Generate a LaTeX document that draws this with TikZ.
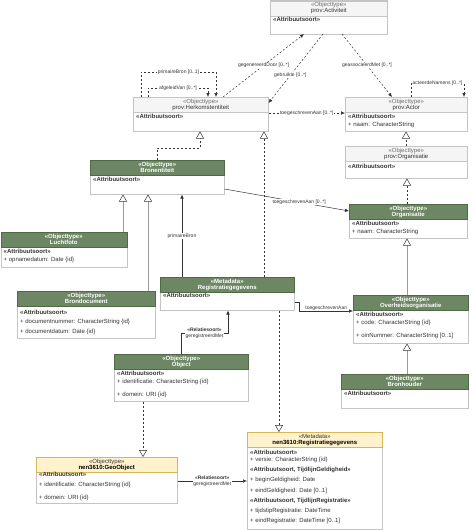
\documentclass[tikz,border=0pt]{standalone}
\usepackage{fontspec}
\setmainfont{Liberation Sans}
\usetikzlibrary{arrows.meta}

\definecolor{hdrgreen}{HTML}{6D8764}
\definecolor{hdrgreenline}{HTML}{4F6A45}
\definecolor{hdrgray}{HTML}{F5F5F5}
\definecolor{hdryellow}{HTML}{FFF2CC}
\definecolor{hdryellowline}{HTML}{D6B656}
\definecolor{boxline}{HTML}{C4C4C4}
\definecolor{genline}{HTML}{9A9A9A}
\definecolor{linedark}{HTML}{333333}

\newcommand{\boxfont}{\fontsize{6}{7}\selectfont}
\newcommand{\lblfont}{\fontsize{5}{6}\selectfont}

% class box: name, x, y, width, height, kind, stereotype, title
\newcommand{\umlclass}[8]{%
  \node[body, minimum width=#4pt, minimum height=#5pt] (#1) at (#2,#3) {};
  \node[head#6, minimum width=#4pt] (#1-h) at (#1.north west) {};
  \node[stereo#6] (#1-s) at ([yshift=-4.6pt]#1-h.north) {«#7»};
  \node[title#6] (#1-t) at ([yshift=-10.6pt]#1-h.north) {#8};
}
% one row of a class box: style, box, id, offset from top, text
\newcommand{\attr}[5][attr]{%
  \node[#1] (#2-#3) at ([xshift=3pt,yshift=-#4pt]#2.north west) {#5};
}

\begin{document}
\begin{tikzpicture}[x=1pt, y=-1pt,
  body/.style={draw=boxline, fill=white, anchor=north west, inner sep=0pt, line width=0.5pt},
  headgreen/.style={draw=hdrgreenline, fill=hdrgreen, anchor=north west, inner sep=0pt, minimum height=15pt, line width=0.5pt},
  headgray/.style={draw=boxline, fill=hdrgray, anchor=north west, inner sep=0pt, minimum height=15pt, line width=0.5pt},
  headyellow/.style={draw=hdryellowline, fill=hdryellow, anchor=north west, inner sep=0pt, minimum height=15pt, line width=0.5pt},
  stereogreen/.style={font=\boxfont\bfseries, text=white, inner sep=0pt},
  titlegreen/.style={font=\boxfont\bfseries, text=white, inner sep=0pt},
  stereogray/.style={font=\boxfont, text=gray!85!black, inner sep=0pt},
  titlegray/.style={font=\boxfont, text=linedark, inner sep=0pt},
  stereoyellow/.style={font=\boxfont, text=linedark, inner sep=0pt},
  titleyellow/.style={font=\boxfont\bfseries, text=black, inner sep=0pt},
  attr/.style={font=\boxfont, anchor=west, inner sep=0pt, text=linedark},
  attrb/.style={attr, font=\boxfont\bfseries},
  lbl/.style={font=\lblfont, fill=white, inner sep=0.6pt, text=linedark, align=center},
  dep/.style={draw=linedark, line width=0.5pt, dash pattern=on 2pt off 2pt, -{Latex[length=4pt,width=3.5pt]}},
  assoc/.style={draw=linedark, line width=0.5pt, -{Latex[length=4pt,width=3.5pt]}},
  real/.style={draw=linedark, line width=0.5pt, dash pattern=on 2pt off 2pt, -{Triangle[length=7pt,width=8pt,fill=white]}},
  gen/.style={draw=genline, line width=1pt, -{Triangle[length=7pt,width=8pt,fill=white,color=linedark,line width=0.5pt]}}
]
\useasboundingbox (0,0) rectangle (474,530);

% ---- prov classes ----
\umlclass{act}{270}{0.5}{117}{33}{gray}{Objecttype}{prov:Activiteit}
\attr[attrb]{act}{a}{19}{«Attribuutsoort»}

\umlclass{herk}{133}{97}{135}{34}{gray}{Objecttype}{prov:Herkomstentiteit}
\attr[attrb]{herk}{a}{19}{«Attribuutsoort»}

\umlclass{actor}{345}{97}{122}{34}{gray}{Objecttype}{prov:Actor}
\attr[attrb]{actor}{a}{19}{«Attribuutsoort»}
\attr{actor}{b}{28}{+ naam: CharacterString}

\umlclass{porg}{345}{146}{122}{32}{gray}{Objecttype}{prov:Organisatie}
\attr[attrb]{porg}{a}{20}{«Attribuutsoort»}

% ---- green classes ----
\umlclass{bron}{90}{160}{134}{34}{green}{Objecttype}{Bronentiteit}
\attr[attrb]{bron}{a}{19}{«Attribuutsoort»}

\umlclass{org}{349}{204}{118}{34}{green}{Objecttype}{Organisatie}
\attr[attrb]{org}{a}{19}{«Attribuutsoort»}
\attr{org}{b}{28}{+ naam: CharacterString}

\umlclass{lucht}{0.5}{232}{126}{35}{green}{Objecttype}{Luchtfoto}
\attr[attrb]{lucht}{a}{19}{«Attribuutsoort»}
\attr{lucht}{b}{28}{+ opnamedatum: Date \{id\}}

\umlclass{brondoc}{17}{291}{138}{47}{green}{Objecttype}{Brondocument}
\attr[attrb]{brondoc}{a}{21}{«Attribuutsoort»}
\attr{brondoc}{b}{31}{+ documentnummer: CharacterString \{id\}}
\attr{brondoc}{c}{41}{+ documentdatum: Date \{id\}}

\umlclass{reg}{160}{277}{134}{33}{green}{Metadata}{Registratiegegevens}
\attr[attrb]{reg}{a}{18}{«Attribuutsoort»}

\umlclass{ovh}{353}{295}{115}{48}{green}{Objecttype}{Overheidsorganisatie}
\attr[attrb]{ovh}{a}{19}{«Attribuutsoort»}
\attr{ovh}{b}{28}{+ code: CharacterString \{id\}}
\attr{ovh}{c}{41}{+ oinNummer: CharacterString [0..1]}

\umlclass{obj}{114}{354}{134}{47}{green}{Objecttype}{Object}
\attr[attrb]{obj}{a}{19}{«Attribuutsoort»}
\attr{obj}{b}{28}{+ identificatie: CharacterString \{id\}}
\attr{obj}{c}{41}{+ domein: URI \{id\}}

\umlclass{bh}{341}{374}{127}{34}{green}{Objecttype}{Bronhouder}
\attr[attrb]{bh}{a}{19}{«Attribuutsoort»}

% ---- nen3610 classes ----
\umlclass{geo}{36}{457}{141}{46}{yellow}{Objecttype}{nen3610:GeoObject}
\attr[attrb]{geo}{a}{17}{«Attribuutsoort»}
\attr{geo}{b}{28}{+ identificatie: CharacterString \{id\}}
\attr{geo}{c}{41}{+ domein: URI \{id\}}

\umlclass{nreg}{247}{432}{135}{97}{yellow}{Metadata}{nen3610:Registratiegegevens}
\attr[attrb]{nreg}{a}{20}{«Attribuutsoort»}
\attr{nreg}{b}{28}{+ versie: CharacterString \{id\}}
\attr[attrb]{nreg}{c}{38}{«Attribuutsoort, TijdlijnGeldigheid»}
\attr{nreg}{d}{48}{+ beginGeldigheid: Date}
\attr{nreg}{e}{59}{+ eindGeldigheid: Date [0..1]}
\attr[attrb]{nreg}{f}{69}{«Attribuutsoort, TijdlijnRegistratie»}
\attr{nreg}{g}{79}{+ tijdstipRegistratie: DateTime}
\attr{nreg}{h}{89}{+ eindRegistratie: DateTime [0..1]}

% ---- prov relations ----
\draw[dep] ([xshift=90pt]herk.north west) -- node[lbl]{gegenereerdDoor [0..*]} ([xshift=34pt]act.south west);
\draw[dep] ([xshift=53pt]act.south west) -- node[lbl,pos=0.6]{gebruikte [0..*]} ([yshift=-6pt]herk.north east);
\draw[dep] ([xshift=72pt]act.south west) -- node[lbl]{geassocieerdMet [0..*]} ([xshift=47pt]actor.north west);
\draw[dep] ([xshift=66pt]actor.north west) |- node[lbl,pos=0.75]{acteerdeNamens [0..*]}
  ([xshift=119pt,yshift=14pt]actor.north west) -- ([xshift=119pt]actor.north west);
\draw[dep] ([xshift=8pt]herk.north west) |- node[lbl,pos=0.75]{primaireBron [0..1]}
  ([xshift=83pt,yshift=25pt]herk.north west) -- ([xshift=83pt]herk.north west);
\draw[dep] ([xshift=15pt]herk.north west) |- node[lbl,pos=0.75]{afgeleidVan [0..*]}
  ([xshift=75pt,yshift=9pt]herk.north west) -- ([xshift=75pt]herk.north west);
\draw[dep] ([yshift=-16pt]herk.north east) -- node[lbl]{toegeschrevenAan [0..*]} ([yshift=-16pt]actor.north west);

% ---- realisations (dashed) ----
\draw[real] ([xshift=67pt]bron.north west) -- ([xshift=67pt,yshift=12pt]bron.north west) -| ([xshift=67pt]herk.south west);
\draw[real] ([xshift=104pt]reg.north west) -- ([xshift=131pt]herk.south west);
\draw[real] ([xshift=61pt]porg.north west) -- ([xshift=61pt]actor.south west);
\draw[real] ([xshift=58pt]org.north west) -- ([xshift=62pt]porg.south west);
\draw[real] ([xshift=29pt]obj.south west) -- ([xshift=107pt]geo.north west);
\draw[real] ([xshift=119pt]reg.south west) -- ([xshift=32pt]nreg.north west);

% ---- generalisations ----
\draw[gen] ([xshift=122.5pt]lucht.north west) -- ([xshift=33pt]bron.south west);
\draw[gen] ([xshift=131pt]brondoc.north west) -- ([xshift=58pt]bron.south west);
\draw[gen] ([xshift=54pt]ovh.north west) -- ([xshift=58pt]org.south west);
\draw[gen] ([xshift=66pt]bh.north west) -- ([xshift=54pt]ovh.south west);

% ---- associations ----
\draw[assoc] ([xshift=22pt]reg.north west) -- node[lbl]{primaireBron} ([xshift=92pt]bron.south west);
\draw[assoc] ([yshift=-29pt]bron.north east) -- node[lbl,pos=0.6]{toegeschrevenAan [0..*]} ([yshift=-7pt]org.north west);
\draw[assoc] ([yshift=-25pt]reg.north east) -- ++(5pt,0) |- node[lbl,pos=0.75,yshift=3pt]{toegeschrevenAan}
  ([yshift=-16pt]ovh.north west);
\draw[assoc] ([xshift=67pt]obj.north west) -- ++(0,21pt) -| node[lbl,pos=0.25]{\textbf{«Relatiesoort»}\\geregistreerdMet}
  ([xshift=68pt]reg.south west);
\draw[assoc] ([yshift=-24pt]geo.north east) -- node[lbl]{\textbf{«Relatiesoort»}\\geregistreerdMet} ([yshift=-49pt]nreg.north west);
\end{tikzpicture}
\end{document}
